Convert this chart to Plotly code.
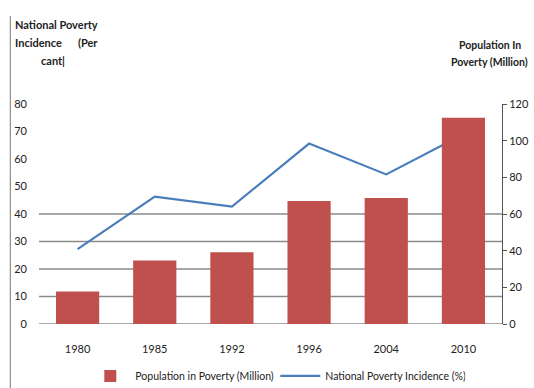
import plotly.graph_objects as go

years = ["1980", "1985", "1992", "1996", "2004", "2010"]
population_millions = [17.7, 34.7, 39.2, 67.1, 68.7, 112.5]
incidence_pct = [27.2, 46.3, 42.7, 65.6, 54.4, 69.0]
left_ticks = [0, 10, 20, 30, 40, 50, 60, 70, 80]
right_ticks = [0, 20, 40, 60, 80, 100, 120]
grid_levels = [0, 10, 20, 30, 40]
left_title_lines = ["National Poverty", "Incidence &nbsp;&nbsp;&nbsp;&nbsp;&nbsp;(Per", "cant|"]
right_title_lines = ["Population In", "Poverty (Million)"]

FONT = "Lato, Liberation Sans, Arial, sans-serif"

fig = go.Figure()
fig.add_trace(go.Bar(
    x=years, y=population_millions, name="Population in Poverty (Million)",
    marker=dict(color="#c0504d", line=dict(width=0)), yaxis="y2", width=0.56,
))
fig.add_trace(go.Scatter(
    x=years, y=incidence_pct, name="National Poverty Incidence (%)",
    mode="lines", line=dict(color="#4a7ebb", width=2.2), yaxis="y",
))

shapes = []
for g in grid_levels:
    shapes.append(dict(type="line", xref="paper", x0=0, x1=1, yref="y", y0=g, y1=g,
                       line=dict(color="#8a8a8a", width=1.3), layer="below"))
# image border on left
shapes.append(dict(type="line", xref="paper", x0=-0.062, x1=-0.062, yref="paper", y0=-0.3, y1=1.4,
                   line=dict(color="#777", width=1)))

annotations = []
left_y = [1.36, 1.28, 1.20]
left_x = [0.0, 0.0, 0.03]
for txt, yy, xx in zip(left_title_lines, left_y, left_x):
    annotations.append(dict(text=f"<b>{txt}</b>", xref="paper", yref="paper",
                            x=xx if xx else -0.057, y=yy,
                            xanchor="center" if xx else "left", yanchor="middle",
                            showarrow=False, font=dict(size=11)))
right_y = [1.27, 1.19]
for txt, yy in zip(right_title_lines, right_y):
    annotations.append(dict(text=f"<b>{txt}</b>", xref="paper", yref="paper",
                            x=0.974, y=yy, xanchor="center", yanchor="middle",
                            showarrow=False, font=dict(size=10.5)))

fig.update_layout(
    width=534, height=388,
    margin=dict(l=39, r=32, t=104, b=64, autoexpand=False),
    paper_bgcolor="white", plot_bgcolor="white",
    font=dict(family=FONT, size=11, color="#222"),
    bargap=0.44,
    shapes=shapes,
    xaxis=dict(type="category", showgrid=False, showline=False, ticks="",
               ticklabelstandoff=17, tickfont=dict(size=11)),
    yaxis=dict(range=[0, 80], tickvals=left_ticks, showgrid=False, zeroline=False,
               showline=False, ticks="", ticklabelstandoff=11, tickfont=dict(size=11)),
    yaxis2=dict(range=[0, 120], tickvals=right_ticks, overlaying="y", side="right",
                showgrid=False, zeroline=False, showline=True, linecolor="#555", linewidth=1,
                ticks="outside", ticklen=4, tickcolor="#555", tickfont=dict(size=11)),
    legend=dict(orientation="h", x=0.1, xanchor="left", y=-0.17, yanchor="top",
                font=dict(size=10.5), itemwidth=40, traceorder="normal",
                entrywidth=135, entrywidthmode="pixels"),
    annotations=annotations,
)

fig.write_html("out.html")
